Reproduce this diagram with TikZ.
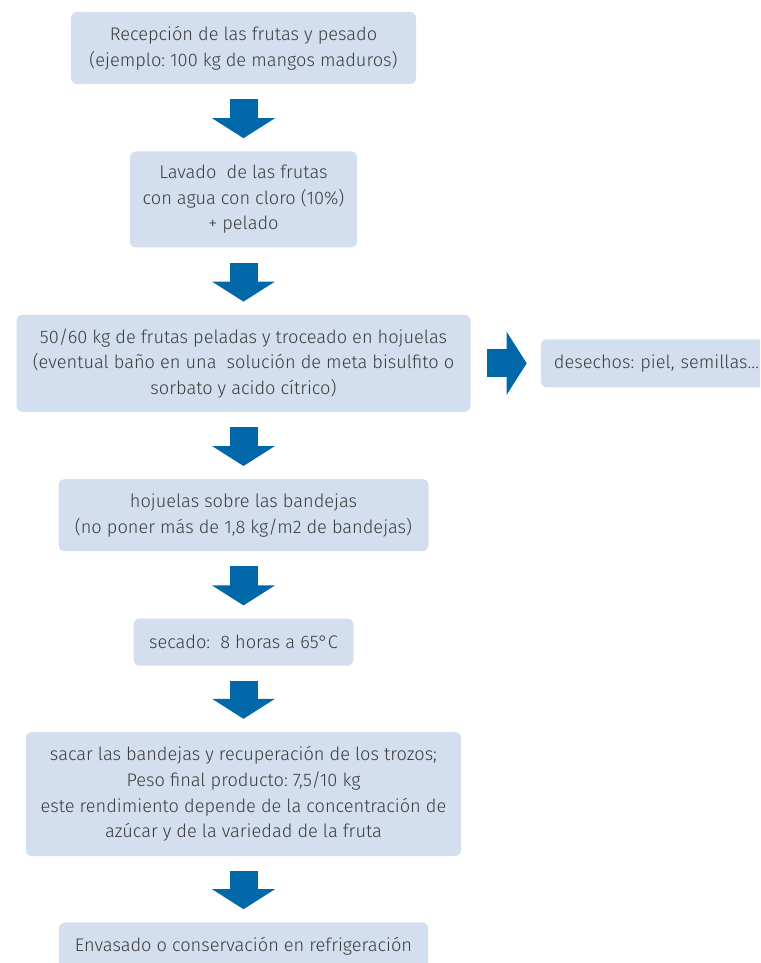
\documentclass[tikz,border=0pt]{standalone}
\usepackage{fontspec}
\setmainfont{Fira Sans Light}
\usepackage{tikz}
\usetikzlibrary{positioning, calc}
\usetikzlibrary{arrows.meta}
\definecolor{boxblue}{HTML}{D3DFEF}
\definecolor{arrowblue}{HTML}{0067A8}
\definecolor{textgray}{HTML}{3C3C3C}
\frenchspacing
\tikzstyle{stepbox}=[rectangle, rounded corners=6pt, fill=boxblue,
text=textgray, align=center, inner sep=0pt, font=\fontsize{18.2}{25.7}\selectfont]
\tikzstyle{bigarrow}=[draw, color=arrowblue, line width=28pt,
-{Triangle[length=20pt, width=62pt]}, shorten <=15pt, shorten >=13pt]

\begin{document}
\begin{tikzpicture}[x=1pt, y=-1pt, node distance=67pt]
    \useasboundingbox (0,0) rectangle (760,963);
    \clip (0,0) rectangle (760,963);
    \node[stepbox, minimum width=345pt, minimum height=72pt] (recep) at (243.5,48)
        {Recepción de las frutas y pesado\\(ejemplo: 100 kg de mangos maduros)};
    \node[stepbox, below=of recep, minimum width=227pt, minimum height=96pt] (lavado)
        {Lavado\ \ de las frutas\\con agua con cloro (10\%)\\+ pelado};
    \node[stepbox, below=of lavado, minimum width=454pt, minimum height=97pt] (trozos)
        {50/60 kg de frutas peladas y troceado en hojuelas\\(eventual baño en una\ \ solución de meta bisulfito o\\sorbato y acido cítrico)};
    \node[stepbox, right=70pt of trozos, minimum height=48pt, text width=210pt,
        inner xsep=13pt, align=left] (desechos) {desechos: piel, semillas…};
    \node[stepbox, below=of trozos, minimum width=370pt, minimum height=72pt] (bandejas)
        {hojuelas sobre las bandejas\\(no poner más de 1,8 kg/m2 de bandejas)};
    \node[stepbox, below=of bandejas, minimum width=220pt, minimum height=47pt] (secado)
        {secado:\ \ 8 horas a 65°C};
    \node[stepbox, below=66pt of secado, minimum width=435pt, minimum height=124pt] (peso)
        {sacar las bandejas y recuperación de los trozos;\\Peso final producto: 7,5/10 kg\\este rendimiento depende de la concentración de\\azúcar y de la variedad de la fruta};
    \node[stepbox, below=66pt of peso, minimum width=369pt, minimum height=47pt] (envase)
        {Envasado o conservación en refrigeración};

    \path[bigarrow]
        (recep) edge (lavado)
        (lavado) edge (trozos)
        (trozos) edge (bandejas)
        (bandejas) edge (secado)
        (secado) edge (peso)
        (peso) edge (envase);
    \draw[bigarrow, shorten <=16pt, shorten >=14pt] (trozos.east) -- (trozos.east -| desechos.west);
\end{tikzpicture}
\end{document}
